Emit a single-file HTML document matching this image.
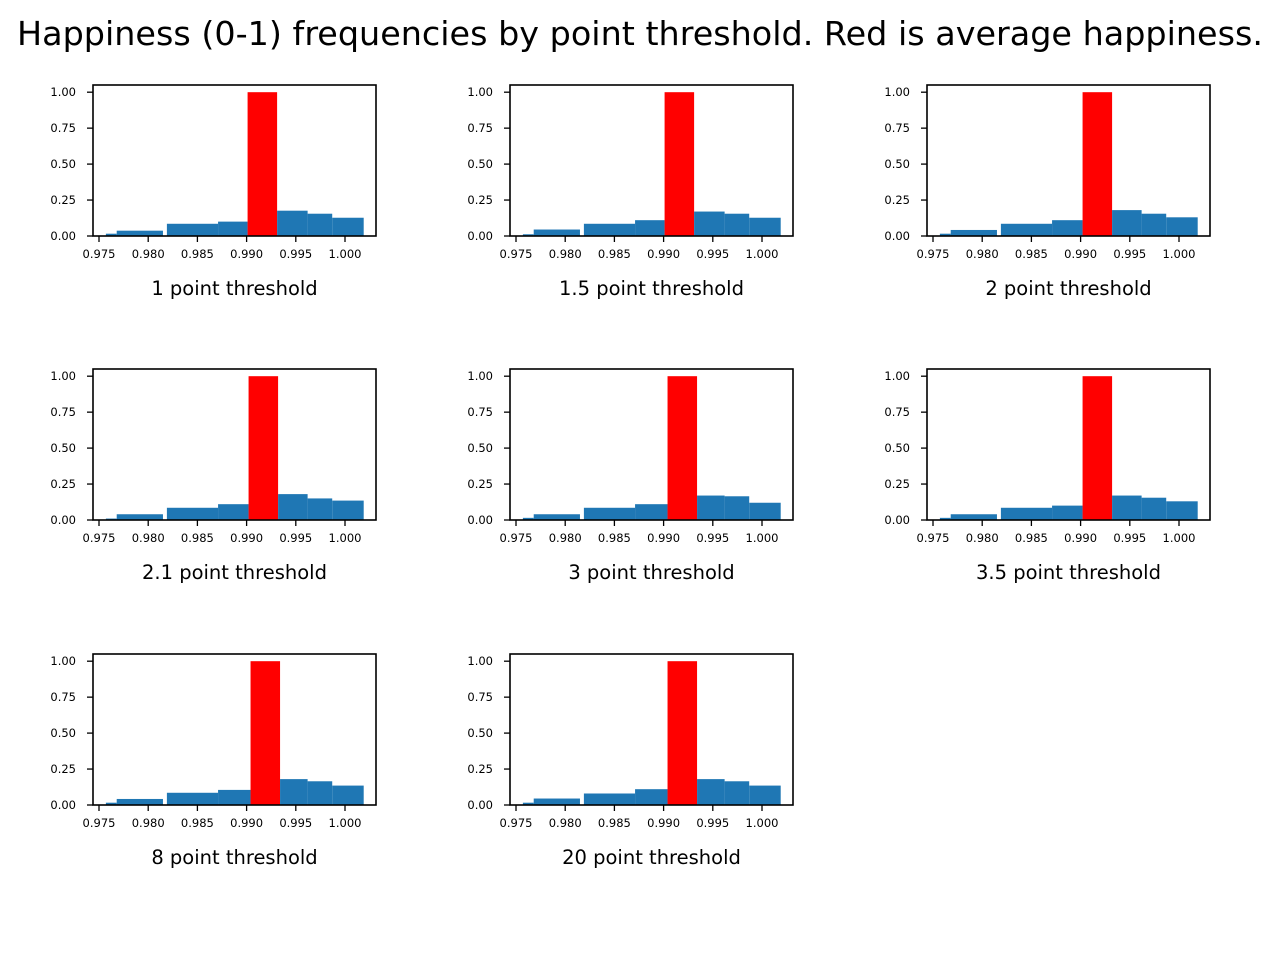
<!DOCTYPE html>
<html><head><meta charset="utf-8">
<style>
body{margin:0;background:#fff;}
svg text{font-family:"DejaVu Sans","Liberation Sans",sans-serif;}
</style></head>
<body>
<svg id="chart" width="1280" height="960" xmlns="http://www.w3.org/2000/svg">
<text x="640" y="45" font-size="33" text-anchor="middle" fill="#000" textLength="1246" lengthAdjust="spacingAndGlyphs">Happiness (0-1) frequencies by point threshold. Red is average happiness.</text>
</svg>
<script>
const panelLabels = ["1 point threshold","1.5 point threshold","2 point threshold","2.1 point threshold","3 point threshold","3.5 point threshold","8 point threshold","20 point threshold"];
const lowStarts = [0.9757,0.9768,0.9819,0.9871];
const lowEnds = [0.9768,0.9815,0.9871];
const upperEdges = [0.9931,0.9962,0.9987,1.0019];
const redStart = [0.9901,0.9901,0.9902,0.9902,0.9904,0.9902,0.9904,0.9904];
const redWidth = 0.0030;
const redHeight = 1.0;
const lowHeights = [
 [0.016,0.037,0.085,0.10],
 [0.012,0.045,0.085,0.11],
 [0.016,0.042,0.085,0.11],
 [0.010,0.040,0.085,0.11],
 [0.015,0.040,0.085,0.11],
 [0.015,0.040,0.085,0.10],
 [0.016,0.042,0.085,0.105],
 [0.016,0.045,0.080,0.11]];
const highHeights = [
 [0.176,0.155,0.127],
 [0.170,0.155,0.127],
 [0.180,0.155,0.130],
 [0.180,0.150,0.135],
 [0.170,0.165,0.120],
 [0.170,0.155,0.130],
 [0.180,0.165,0.135],
 [0.180,0.165,0.135]];
const xTicks = [0.975,0.980,0.985,0.990,0.995,1.000];
const xTickLabels = ["0.975","0.980","0.985","0.990","0.995","1.000"];
const yTicks = [0,0.25,0.5,0.75,1.0];
const yTickLabels = ["0.00","0.25","0.50","0.75","1.00"];

const NS="http://www.w3.org/2000/svg";
const svg=document.getElementById('chart');
const colX=[93,510,927], rowY=[85,369,654], W=283, H=151;
const xMin=0.974390, pxPerUnit=9840, yMax=1.05;
function mk(tag,attrs,parent){const e=document.createElementNS(NS,tag);for(const k in attrs)e.setAttribute(k,attrs[k]);(parent||svg).appendChild(e);return e;}

panelLabels.forEach((lab,i)=>{
  const ox=colX[i%3], oy=rowY[Math.floor(i/3)];
  const X=v=>ox+(v-xMin)*pxPerUnit;
  const Y=v=>oy+H-v/yMax*H;
  const g=mk('g',{});
  
  
  lowHeights[i].forEach((h,j)=>{
    const x0=lowStarts[j], x1=(j===3)?redStart[i]:lowEnds[j];
    const xa=X(x0), xb=X(x1);
    const r=mk('rect',{x:xa,y:Y(h),width:Math.max(0,xb-xa),height:Y(0)-Y(h),fill:'#1f77b4'},g);
    
    
  });
  const rs=redStart[i];
  const red=mk('rect',{x:X(rs),y:Y(redHeight),width:X(rs+redWidth)-X(rs),height:Y(0)-Y(redHeight),fill:'#ff0000'},g);
  
  
  highHeights[i].forEach((h,j)=>{
    const x0=j===0?rs+redWidth:upperEdges[j], x1=upperEdges[j+1];
    const r=mk('rect',{x:X(x0),y:Y(h),width:X(x1)-X(x0),height:Y(0)-Y(h),fill:'#1f77b4'},g);
    
    
  });
  const fr=mk('rect',{x:ox,y:oy,width:W,height:H,fill:'none',stroke:'#000','stroke-width':1.6},g);
  
  
  xTicks.forEach((t,k)=>{
    const x=X(t);
    mk('line',{x1:x,x2:x,y1:oy+H,y2:oy+H+6,stroke:'#000','stroke-width':1.3},g);
    const tx=mk('text',{x:x,y:oy+H+22,'font-size':11.5,'text-anchor':'middle'},g);
    tx.textContent=xTickLabels[k];
    
    
  });
  yTicks.forEach((t,k)=>{
    const y=Y(t);
    mk('line',{x1:ox-6,x2:ox,y1:y,y2:y,stroke:'#000','stroke-width':1.3},g);
    const ty=mk('text',{x:ox-17,y:y+4,'font-size':11.5,'text-anchor':'end'},g);
    ty.textContent=yTickLabels[k];
    
    
  });
  const xl=mk('text',{x:ox+W/2,y:oy+H+59,'font-size':19.5,'text-anchor':'middle'},g);
  xl.textContent=lab;
  
  
});
</script>
</body></html>
